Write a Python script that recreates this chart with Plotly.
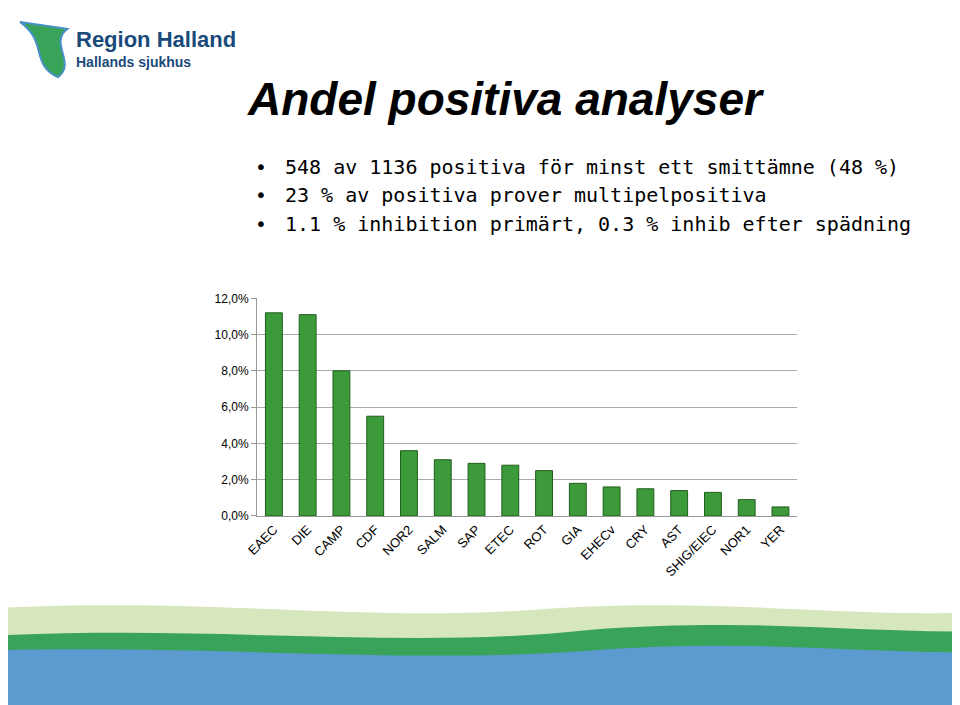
import plotly.graph_objects as go

categories = ["EAEC","DIE","CAMP","CDF","NOR2","SALM","SAP","ETEC","ROT","GIA","EHECv","CRY","AST","SHIG/EIEC","NOR1","YER"]
values = [11.2, 11.1, 8.0, 5.5, 3.6, 3.1, 2.9, 2.8, 2.5, 1.8, 1.6, 1.5, 1.4, 1.3, 0.9, 0.5]
tick_vals = [0, 2, 4, 6, 8, 10, 12]
tick_text = ["0,0%", "2,0%", "4,0%", "6,0%", "8,0%", "10,0%", "12,0%"]

fig = go.Figure(go.Bar(x=categories, y=values, width=0.5,
                       marker=dict(color="#3d9a3a", line=dict(color="#1f5e1c", width=1))))

fig.update_layout(
    width=960, height=705, margin=dict(l=0, r=0, t=0, b=0),
    paper_bgcolor="white", plot_bgcolor="white", showlegend=False,
    xaxis=dict(domain=[0.25, 0.82], tickangle=-45, tickfont=dict(family="Liberation Sans", size=13, color="black"),
               showline=True, linecolor="#999", ticks=""),
    yaxis=dict(domain=[0.275, 0.59], range=[0, 12], tickvals=tick_vals, ticktext=tick_text,
               tickfont=dict(family="Liberation Sans", size=12, color="black"),
               showgrid=True, gridcolor="#aaa", showline=True, linecolor="#999", ticks="outside", ticklen=5, tickcolor="#999"),
    font=dict(family="Liberation Sans"),
)

shapes = [
    dict(type="path", xref="paper", yref="paper", layer="below",
         path="M -0.05,0.14 C 0.2,0.16 0.35,0.12 0.55,0.14 C 0.75,0.16 0.9,0.12 1.05,0.14 L 1.05,-0.05 L -0.05,-0.05 Z",
         fillcolor="#d6e6bd", line=dict(width=0)),
    dict(type="path", xref="paper", yref="paper", layer="below",
         path="M -0.05,0.1 C 0.2,0.12 0.4,0.08 0.6,0.11 C 0.8,0.13 0.9,0.1 1.05,0.11 L 1.05,-0.05 L -0.05,-0.05 Z",
         fillcolor="#3aa35a", line=dict(width=0)),
    dict(type="path", xref="paper", yref="paper", layer="below",
         path="M -0.05,0.08 C 0.2,0.09 0.4,0.06 0.6,0.08 C 0.8,0.1 0.9,0.07 1.05,0.08 L 1.05,-0.05 L -0.05,-0.05 Z",
         fillcolor="#5b9bd0", line=dict(width=0)),
    dict(type="path", xref="paper", yref="paper", layer="below",
         path="M 0.0,0.99 C 0.03,0.96 0.01,0.93 0.04,0.91 C 0.06,0.93 0.03,0.96 0.05,0.98 Z",
         fillcolor="#3aa35a", line=dict(color="#4a90c8", width=2)),
]
fig.update_layout(shapes=shapes)

ann = [
    dict(text="<b>Region Halland</b>", x=55/960, y=1-25/705, xanchor="left", yanchor="middle",
         font=dict(size=22, color="#1a4a7a", family="Liberation Sans")),
    dict(text="<b>Hallands sjukhus</b>", x=55/960, y=1-48/705, xanchor="left", yanchor="middle",
         font=dict(size=14, color="#1a4a7a", family="Liberation Sans")),
    dict(text="<b><i>Andel positiva analyser</i></b>", x=228/960, y=1-86/705, xanchor="left", yanchor="middle",
         font=dict(size=46, color="black", family="Liberation Sans")),
]
bullets = ["548 av 1136 positiva för minst ett smittämne (48 %)",
           "23 % av positiva prover multipelpositiva",
           "1.1 % inhibition primärt, 0.3 % inhib efter spädning"]
for i, b in enumerate(bullets):
    ann.append(dict(text="•", x=236/960, y=1-(155+29*i)/705, xanchor="left", yanchor="middle",
                    font=dict(size=20, color="black", family="DejaVu Sans")))
    ann.append(dict(text=b, x=266/960, y=1-(155+29*i)/705, xanchor="left", yanchor="middle",
                    font=dict(size=20, color="black", family="DejaVu Sans Mono")))
for a in ann:
    a.update(xref="paper", yref="paper", showarrow=False)
fig.update_layout(annotations=ann)

fig.write_html("out.html")
